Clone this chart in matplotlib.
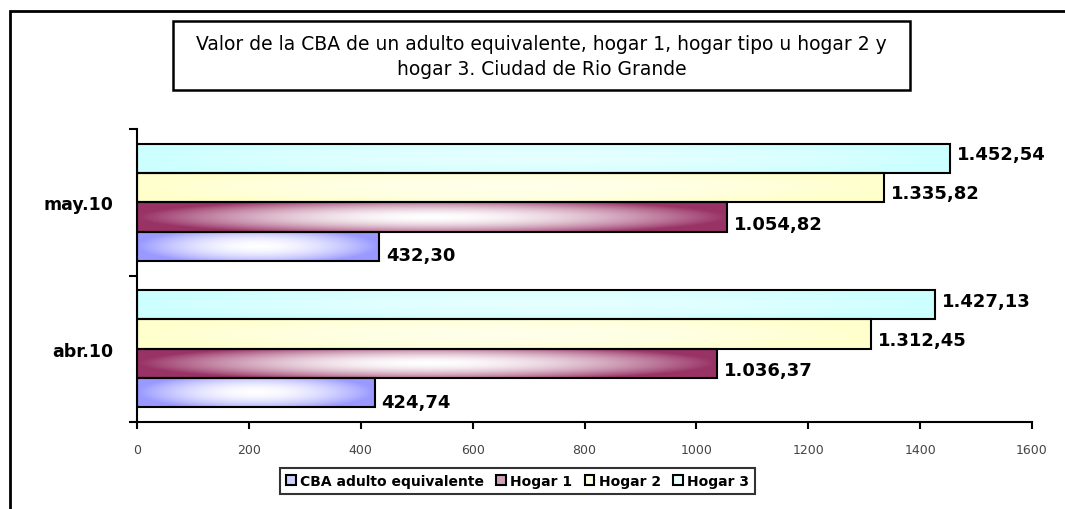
import numpy as np
import matplotlib.pyplot as plt
from matplotlib.patches import Rectangle, Patch
from matplotlib.colors import to_rgb

# data
categories = ['abr.10', 'may.10']
series_names = ['CBA adulto equivalente', 'Hogar 1', 'Hogar 2', 'Hogar 3']
cba = [424.74, 432.30]
hogar1 = [1036.37, 1054.82]
hogar2 = [1312.45, 1335.82]
hogar3 = [1427.13, 1452.54]
x_ticks = [0, 200, 400, 600, 800, 1000, 1200, 1400, 1600]

title = ('Valor de la CBA de un adulto equivalente, hogar 1, hogar tipo u hogar 2 y\n'
         'hogar 3. Ciudad de Rio Grande')

# styling
colors = ['#9999FF', '#993366', '#FFFFCC', '#CCFFFF']
white_mix = [1.0, 1.0, 0.6, 0.5]  # how far the middle of the bar goes to white
label_dy = [-6.5, -5, -4, 3]  # points, label nudge like the original
bar_h = 0.2


def es_fmt(v):
    s = '{:,.2f}'.format(v)
    return s.replace(',', 'X').replace('.', ',').replace('X', '.')


def center_gradient(color, strength, n=200, m=40):
    # base colour at the edges, lighter towards the middle
    xs = np.linspace(0, 1, n)
    ys = np.linspace(0, 1, m)
    gx, gy = np.meshgrid(xs, ys)
    hx = np.abs(gx - 0.5) / 0.5
    vy = np.abs(gy - 0.5) / 0.5 * 0.8
    t = np.clip(np.sqrt(hx ** 2 + vy ** 2), 0, 1) ** 1.8
    w = (1 - t) * strength
    base = np.array(to_rgb(color))
    img = base + w[..., None] * (np.ones(3) - base)
    return img


plt.rcParams['font.family'] = ['DejaVu Sans']
fig = plt.figure(figsize=(10.65, 5.1), dpi=100)
ax = fig.add_axes([137 / 1065, 87 / 510, 895 / 1065, 293 / 510])

y = np.arange(len(categories))
all_series = [cba, hogar1, hogar2, hogar3]
for i, vals in enumerate(all_series):
    offs = (i - 1.5) * bar_h
    bars = ax.barh(y + offs, vals, height=bar_h, facecolor='none',
                   edgecolor='black', linewidth=1.5, zorder=3)
    grad = center_gradient(colors[i], white_mix[i])
    for b in bars:
        x0, y0 = b.get_x(), b.get_y()
        im = ax.imshow(grad, extent=(x0, x0 + b.get_width(), y0, y0 + b.get_height()),
                       aspect='auto', origin='lower', zorder=2, interpolation='bilinear')
        im.set_clip_path(b)
    for yy, v in zip(y + offs, vals):
        ax.annotate(es_fmt(v), (v, yy), xytext=(5, label_dy[i]),
                    textcoords='offset points', va='center', ha='left',
                    fontsize=13, fontweight='bold')

ax.set_xlim(0, 1600)
ax.set_ylim(-0.5, len(categories) - 0.5)
ax.set_xticks(x_ticks)
ax.set_xticklabels([str(t) for t in x_ticks], fontsize=9, color='#444444')
ax.tick_params(axis='x', direction='out', length=5, width=1.5, pad=10)

ax.set_yticks(np.arange(-0.5, len(categories), 1.0))
ax.set_yticklabels([])
ax.tick_params(axis='y', which='major', direction='out', length=6, width=1.5)
ax.set_yticks(y, minor=True)
ax.set_yticklabels(categories, minor=True, fontsize=12.5, fontweight='bold')
ax.tick_params(axis='y', which='minor', length=0, pad=17)

for s in ['top', 'right']:
    ax.spines[s].set_visible(False)
for s in ['left', 'bottom']:
    ax.spines[s].set_linewidth(1.5)

# legend with small squares
handles = [Patch(facecolor=tuple(0.55 * np.ones(3) + 0.45 * np.array(to_rgb(c))),
                 edgecolor='black', linewidth=1.5) for c in colors]
leg = fig.legend(handles, series_names, loc='center', bbox_to_anchor=(517.5 / 1065, 28 / 510),
                 ncol=4, fancybox=False, shadow=False, handlelength=0.7, handleheight=0.7,
                 handletextpad=0.3, columnspacing=0.9, borderpad=0.45,
                 prop={'size': 10, 'weight': 'bold'})
leg.get_frame().set_edgecolor('black')
leg.get_frame().set_linewidth(1.5)

# title box
fig.patches.append(Rectangle((173 / 1065, 1 - 91 / 510), 737 / 1065, 69 / 510,
                             transform=fig.transFigure, fill=False,
                             edgecolor='black', linewidth=1.8))
fig.text(541.5 / 1065, 1 - 57 / 510, title, ha='center', va='center',
         fontsize=13.5, linespacing=1.45)

# outer chart frame (right and bottom fall outside the image)
fig.patches.append(Rectangle((10 / 1065, -0.1), 1.2, 1.1 - 12 / 510,
                             transform=fig.transFigure, fill=False,
                             edgecolor='black', linewidth=2))

fig.savefig('out.png', dpi=100)
